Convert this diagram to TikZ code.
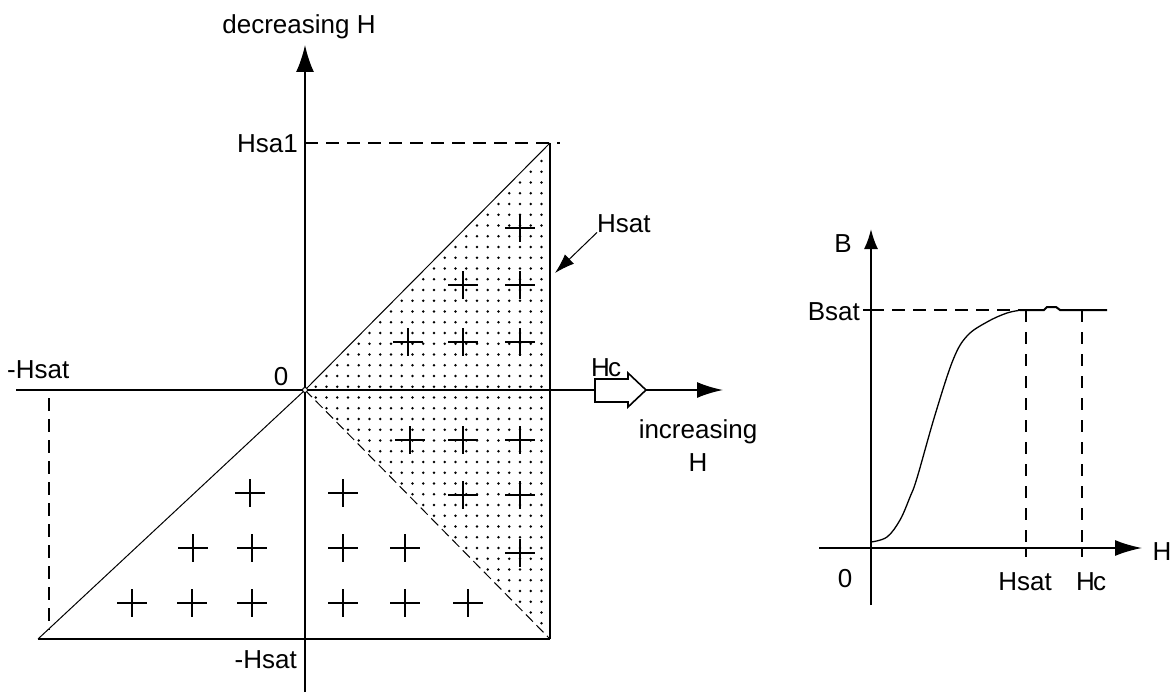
\documentclass[tikz,border=0pt]{standalone}
\usepackage{fontspec}
\setmainfont{Liberation Sans}
\usetikzlibrary{arrows.meta}
\begin{document}
\begin{tikzpicture}[x=1pt,y=-1pt,
  ax/.style={line width=2pt},
  dsh/.style={line width=2pt, dash pattern=on 13pt off 8pt},
  vdsh/.style={line width=1.6pt, dash pattern=on 12pt off 10pt},
  thinln/.style={line width=1pt},
  lbl/.style={inner sep=0pt, font=\fontsize{26}{33}\selectfont},
  crossln/.style={line width=2pt}]
\useasboundingbox (0,0) rectangle (1175,698);
% ---------- left figure: coordinates
\coordinate (O) at (305,390);
\coordinate (vtop) at (305,45);
\coordinate (vbot) at (305,692);
\coordinate (hleft) at (16,390);
\coordinate (hright) at (723,390);
\coordinate (TR) at (550,143);
\coordinate (BR) at (550,639);
\coordinate (BL) at (38,639);
\coordinate (HsaEnd) at (560,143);
\coordinate (HsaStart) at (305,143);
\coordinate (LdTop) at (49,398);
\coordinate (LdBot) at (49,630);
% stipple
\begin{scope}
\clip (O) -- (TR) -- (BR) -- cycle;
\foreach \i in {0,...,23}
  \foreach \j in {-6,...,41}
    \fill (305+\i*10.75, 204+\j*10.75) circle (1.3pt);
\end{scope}
% axes
\draw[ax, -{Latex[length=27pt,width=18pt]}] (vbot) -- (vtop);
\draw[ax, -{Latex[length=26pt,width=16pt]}] (hleft) -- (hright);
% frame lines
\draw[dsh] (HsaStart) -- (HsaEnd);
\draw[ax] (TR) -- (BR);
\draw[ax] (BL) -- (BR);
\draw[dsh] (LdTop) -- (LdBot);
\draw[thinln] (BL) -- (O) -- (TR);
\draw[thinln, dash pattern=on 10pt off 5pt] (O) -- (BR);
\draw[line width=1pt, fill=white] (O) circle (2.5pt);
% Hc block arrow
\draw[line width=1.6pt, fill=white] (595,379) -- (628,379) -- (628,373) -- (646,390)
  -- (628,407) -- (628,402) -- (595,402) -- cycle;
% crosses
\foreach \p in {(250,493),(193,548),(252,548),(132,603),(192,603),(252,603),
                (343,493),(343,548),(405,548),(343,603),(405,603),(468,603),
                (520,228),(463,285),(520,285),(408,342),(463,342),(520,342),
                (410,440),(463,440),(520,440),(463,495),(520,495),(520,553)}
  \draw[crossln] \p ++(-15,0) -- ++(30,0) \p ++(0,-14) -- ++(0,28);
% labels
\node[lbl, anchor=base] (decH) at (299,34) {decreasing H};
\node[lbl, anchor=base east] (hsa1) at (298,153) {Hsa1};
\node[lbl, anchor=base west] (mhsatL) at (7,378) {-Hsat};
\node[lbl, anchor=base] (zeroL) at (281,385) {0};
\node[lbl, anchor=base east] (mhsatB) at (297,668) {-Hsat};
\node[lbl, anchor=base west] (hsatP) at (597,232) {Hsat};
\node[lbl, anchor=base west] (hcL) at (591,376) {H\kern-2pt c};
\node[lbl, anchor=north, align=center] (incH) at (698,419) {increasing\\H};
\draw[thinln, -{Latex[length=20pt,width=13pt]}] (hsatP.south west) -- (555,273);
% ---------- right figure
\coordinate (Bo) at (871,548);
\coordinate (Btop) at (871,229);
\coordinate (Bbot) at (871,605);
\coordinate (Hl) at (819,548);
\coordinate (Hr) at (1142,548);
\draw[ax, -{Latex[length=20pt,width=14pt]}] (Bbot) -- (Btop);
\draw[ax, -{Latex[length=27pt,width=16pt]}] (Hl) -- (Hr);
\draw[dsh] (871,310) -- (1022,310);
\draw[ax] (863,310) -- (871,310);
\draw[vdsh] (1026,310) -- (1026,548);
\draw[vdsh] (1082,310) -- (1082,548);
\draw[ax] (1026,548) -- (1026,557);
\draw[ax] (1082,548) -- (1082,557);
\draw[line width=1.3pt] plot[smooth, tension=0.6] coordinates {
  (871,542) (887,537) (900,520) (910,497) (917,478) (935,415) (953,360) (967,336)
  (987,322) (1007,313) (1022,310)};
\draw[line width=2pt] (1020,310) -- (1044,310) -- (1047,307) -- (1056,307) -- (1060,310) -- (1107,310);
\node[lbl, anchor=base] (Blbl) at (843,252) {B};
\node[lbl, anchor=base east] (bsat) at (860,320) {Bsat};
\node[lbl, anchor=base] (zeroR) at (845,587) {0};
\node[lbl, anchor=base] (hsatR) at (1025,590) {Hsat};
\node[lbl, anchor=base west] (hcR) at (1076,590) {H\kern-2pt c};
\node[lbl, anchor=base] (Hlbl) at (1162,560) {H};
\end{tikzpicture}
\end{document}
